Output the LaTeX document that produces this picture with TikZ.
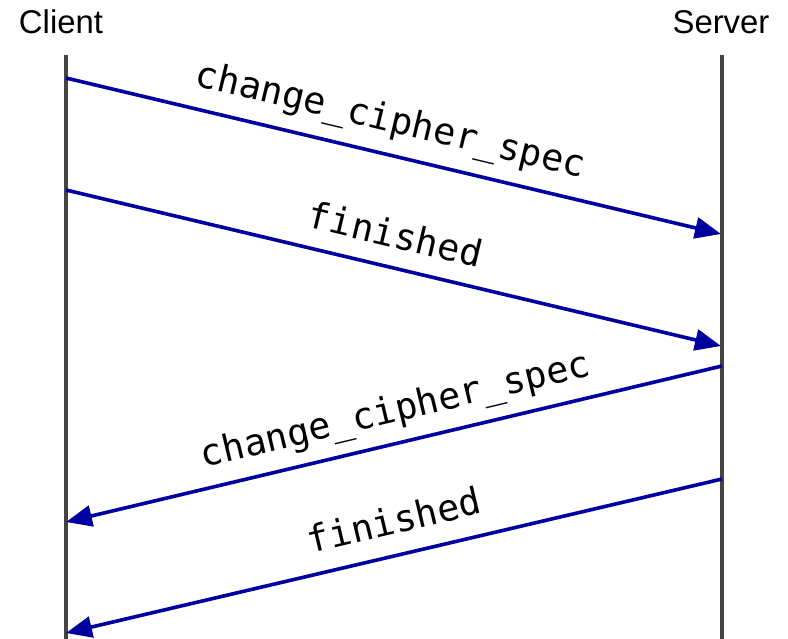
\documentclass[tikz,border=0pt]{standalone}
\usepackage{fontspec}
\setmainfont{Liberation Sans}
\newfontfamily\codefont{DejaVu Sans Mono}
\usetikzlibrary{arrows.meta,calc}
\definecolor{msgblue}{HTML}{0000A0}
\definecolor{lifegray}{HTML}{444444}
\tikzset{
  party/.style={font=\fontsize{33}{33}\selectfont, inner sep=0pt, anchor=base},
  lifeline/.style={draw=lifegray, line width=3.5bp},
  msg/.style={draw=msgblue, line width=3.6bp, -{Triangle[length=26bp,width=21bp]}},
  msglabel/.style={font=\codefont\fontsize{37}{37}\selectfont, inner sep=0pt}
}
\begin{document}
\begin{tikzpicture}[x=1bp,y=-1bp]
  \useasboundingbox (0,0) rectangle (788,639);

  % parties
  \node[party] (client) at (61,34) {Client};
  \node[party] (server) at (721,34) {Server};

  % lifelines
  \coordinate (ctop) at (66,55);
  \coordinate (cbot) at (66,639);
  \coordinate (stop) at (722,55);
  \coordinate (sbot) at (722,639);
  \draw[lifeline] (ctop) -- (cbot);
  \draw[lifeline] (stop) -- (sbot);

  % message end points
  \coordinate (c1) at (66,78);   \coordinate (s1) at (721,234);
  \coordinate (c2) at (66,190);  \coordinate (s2) at (721,346);
  \coordinate (s3) at (722,366); \coordinate (c3) at (66,522);
  \coordinate (s4) at (722,479); \coordinate (c4) at (66,633);

  % messages
  \draw[msg] (c1) -- (s1);
  \draw[msg] (c2) -- (s2);
  \draw[msg] (s3) -- (c3);
  \draw[msg] (s4) -- (c4);

  % message labels, set above the middle of each message
  \node[msglabel, rotate=-13.4] (l1) at ($(c1)!0.5!(s1)+(-3,-34)$) {change\_cipher\_spec};
  \node[msglabel, rotate=-13.4] (l2) at ($(c2)!0.5!(s2)+(2,-34)$) {finished};
  \node[msglabel, rotate=13.4] (l3) at ($(s3)!0.5!(c3)+(2,-32)$) {change\_cipher\_spec};
  \node[msglabel, rotate=13.4] (l4) at ($(s4)!0.5!(c4)+(0,-36)$) {finished};
\end{tikzpicture}
\end{document}
